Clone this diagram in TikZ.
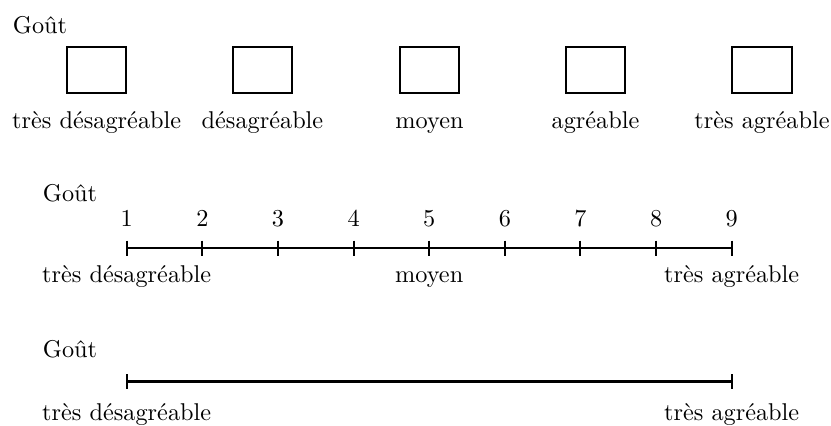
\documentclass[tikz,border=0pt]{standalone}
\begin{document}
\begin{tikzpicture}[x=0.412pt,y=-0.412pt,
  txt/.style={inner sep=0pt,anchor=base},
  txtw/.style={inner sep=0pt,anchor=base west},
  cbox/.style={draw,line width=0.85pt,minimum width=24.4pt,minimum height=18.6pt,inner sep=0pt},
  scaleline/.style={line width=0.85pt},
  tick/.style={line width=0.85pt}]
\useasboundingbox (0,0) rectangle (831,425);
% Row 1: boxes
\node[txtw] (g1) at (12.5,33) {Goût};
\foreach \i/\x/\t in {1/96.7/très désagréable,2/262.5/désagréable,3/429.5/moyen,4/595.5/agréable,5/762/très agréable}{
  \node[cbox] (b\i) at (\x,70) {};
  \node[txt] (l\i) at (\x,128) {\t};
}
% Row 2: numbered scale
\node[txtw] (g2) at (42.5,201) {Goût};
\foreach \i in {1,...,9}{
  \pgfmathsetmacro{\xx}{126.7+(\i-1)*75.625}
  \coordinate (t\i) at (\xx,248);
  \coordinate (tu\i) at (\xx,240.5);
  \coordinate (td\i) at (\xx,255.5);
  \draw[tick] (tu\i) -- (td\i);
  \node[txt] (n\i) at (\xx,226.5) {\i};
}
\draw[scaleline] (t1) -- (t9);
\node[txt] (m1) at (126.7,282) {très désagréable};
\node[txt] (m5) at (429.2,282) {moyen};
\node[txt] (m9) at (731.7,282) {très agréable};
% Row 3: plain scale
\node[txtw] (g3) at (42.5,357) {Goût};
\coordinate (s1) at (126.7,381.5);
\coordinate (s2) at (731.7,381.5);
\coordinate (s1u) at (126.7,374);
\coordinate (s1d) at (126.7,389);
\coordinate (s2u) at (731.7,374);
\coordinate (s2d) at (731.7,389);
\draw[scaleline] (s1) -- (s2);
\draw[tick] (s1u) -- (s1d);
\draw[tick] (s2u) -- (s2d);
\node[txt] (p1) at (126.7,420) {très désagréable};
\node[txt] (p2) at (731.7,420) {très agréable};
\end{tikzpicture}
\end{document}
